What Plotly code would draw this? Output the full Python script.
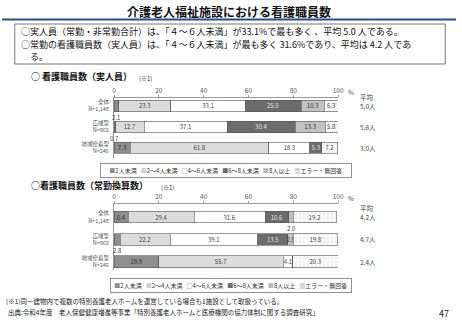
import plotly.graph_objects as go

W, H = 462, 320
FONT = "Noto Sans CJK JP"

# ---------------- data ----------------
categories = ["全体", "広域型", "地域密着型"]
sample_sizes = ["N=1,148", "N=902", "N=246"]
series_names = ["2人未満", "2～4人未満", "4～6人未満", "6～8人未満", "8人以上", "エラー・無回答"]
tick_values = [0, 20, 40, 60, 80, 100]

# 看護職員数（実人員）
actual_lt2 = [2.1, 0.7, 7.3]
actual_2to4 = [23.3, 12.7, 61.8]
actual_4to6 = [33.1, 37.1, 18.3]
actual_6to8 = [25.0, 30.4, 5.3]
actual_8plus = [10.3, 13.3, 0.0]
actual_error = [6.3, 5.8, 7.2]
actual_avg = ["5.0人", "5.6人", "3.0人"]

# 看護職員数（常勤換算数）
fte_lt2 = [6.4, 2.8, 19.9]
fte_2to4 = [29.4, 22.2, 55.7]
fte_4to6 = [31.6, 39.1, 4.1]
fte_6to8 = [10.6, 13.5, 0.0]
fte_8plus = [2.0, 2.5, 0.0]
fte_error = [19.2, 19.8, 20.3]
fte_avg = ["4.2人", "4.7人", "2.4人"]

# ---------------- styles ----------------
colors = ["#8e8e8e", "#dcdcdc", "#ffffff", "#6c6c6c", "#c2c2c2", "#ffffff"]
text_colors = ["#333333", "#444444", "#444444", "#e6e6e6", "#333333", "#444444"]
legend_glyphs = [("■", "#8e8e8e"), ("■", "#d0d0d0"), ("□", "#777777"),
                 ("■", "#6c6c6c"), ("■", "#b8b8b8"), ("▦", "#999999")]


def px(x):
    return x / W


def py(y):
    return 1 - y / H


def note(x, y, text, font, xanchor="left", yanchor="middle", **kw):
    fig.add_annotation(x=px(x), y=py(y), xref="paper", yref="paper", showarrow=False,
                       xanchor=xanchor, yanchor=yanchor, text=text, font=font, **kw)


fig = go.Figure()

charts = [
    dict(series=[actual_lt2, actual_2to4, actual_4to6, actual_6to8, actual_8plus, actual_error],
         avg=actual_avg, xa="x", ya="y"),
    dict(series=[fte_lt2, fte_2to4, fte_4to6, fte_6to8, fte_8plus, fte_error],
         avg=fte_avg, xa="x2", ya="y2"),
]

small_font = dict(family=FONT, size=6, color="#444444")

for ch in charts:
    cumulative = [0.0] * len(categories)
    for si, vals in enumerate(ch["series"]):
        texts = []
        for v in vals:
            inside = v >= 2.5 and not (si == 0 and v < 3)
            texts.append(f"{v:.1f}" if inside else "")
        marker = dict(color=colors[si], line=dict(color="#555555", width=0.6))
        if si == 5:
            marker["pattern"] = dict(shape="+", fgcolor="#9a9a9a", bgcolor="#ffffff",
                                     size=4, solidity=0.18)
        fig.add_trace(go.Bar(
            y=categories, x=vals, orientation="h", name=series_names[si],
            marker=marker, text=texts, textposition="inside", textangle=0,
            insidetextanchor="middle", constraintext="none",
            textfont=dict(family=FONT, size=6, color=text_colors[si]),
            xaxis=ch["xa"], yaxis=ch["ya"], showlegend=False, hoverinfo="skip",
        ))
        for k, v in enumerate(vals):
            below = (0 < v < 2.5) or (si == 0 and 0 < v < 3)
            if below:
                fig.add_annotation(
                    x=cumulative[k] + v / 2, y=categories[k], xref=ch["xa"], yref=ch["ya"],
                    text=f"{v:.1f}", showarrow=False, yanchor="top", yshift=-5,
                    font=small_font)
            cumulative[k] += v
    # averages
    for k, a in enumerate(ch["avg"]):
        fig.add_annotation(x=px(362), xref="paper", y=categories[k], yref=ch["ya"],
                           text=a, showarrow=False, xanchor="left", yanchor="middle",
                           font=dict(family=FONT, size=6.5, color="#444444"))
    fig.add_annotation(x=px(362), xref="paper", y=categories[0], yref=ch["ya"],
                       text="平均", showarrow=False, xanchor="left", yanchor="middle",
                       yshift=9, font=dict(family=FONT, size=6.5, color="#444444"))

# ---------------- axes ----------------
xaxis_common = dict(range=[0, 100], side="top", tickvals=tick_values,
                    showline=True, linecolor="#999999", linewidth=1,
                    ticks="outside", ticklen=2, tickcolor="#999999",
                    tickfont=dict(family=FONT, size=6.5, color="#555555"),
                    ticklabelstandoff=-1,
                    showgrid=False, zeroline=False, fixedrange=True,
                    domain=[px(114), px(342)])
yaxis_common = dict(type="category", tickvals=categories,
                    ticktext=[f"{c}<br>{n}" for c, n in zip(categories, sample_sizes)],
                    showline=True, linecolor="#999999", linewidth=1, ticks="",
                    tickfont=dict(family=FONT, size=5.5, color="#555555"),
                    showgrid=False, zeroline=False, fixedrange=True,
                    ticklabelstandoff=3)

fig.update_layout(
    width=W, height=H, margin=dict(l=0, r=0, t=0, b=0),
    paper_bgcolor="white", plot_bgcolor="white",
    barmode="stack", bargap=0.47,
    uniformtext=dict(minsize=6, mode="show"),
    font=dict(family=FONT),
    xaxis=dict(xaxis_common, anchor="y"),
    yaxis=dict(yaxis_common, anchor="x", domain=[py(158), py(98)], range=[2.48, -0.38]),
    xaxis2=dict(xaxis_common, anchor="y2"),
    yaxis2=dict(yaxis_common, anchor="x2", domain=[py(270), py(204)], range=[2.36, -0.58]),
)

tick_font = dict(family=FONT, size=6.5, color="#555555")
# "%" after 100
note(350, 92, "%", tick_font)
note(350, 198, "%", tick_font)

# ---------------- page decorations ----------------
shapes = [
    dict(type="line", xref="paper", yref="paper", x0=0, x1=1, y0=py(19.5), y1=py(19.5),
         line=dict(color="#1f4e9c", width=2)),
    dict(type="rect", xref="paper", yref="paper", x0=px(13), x1=px(451), y0=py(64), y1=py(24),
         line=dict(color="#777777", width=1)),
]
fig.update_layout(shapes=shapes)

note(231, 11, "<b>介護老人福祉施設における看護職員数</b>",
     dict(family=FONT, size=12, color="#111111"), xanchor="center")

box_font = dict(family=FONT, size=9, color="#111111")
note(17, 32, "○実人員（常勤・非常勤合計）は、「４～６人未満」が33.1%で最も多く 、平均 5.0 人である。", box_font)
note(17, 44.5, "○常勤の看護職員数（実人員）は、「４～６人未満」が最も多く 31.6%であり、平均は 4.2 人であ", box_font)
note(26, 57, "る。", box_font)

head_font = dict(family=FONT, size=9, color="#111111")
ref_font = dict(family=FONT, size=6, color="#333333")
note(27, 76, "<b>○ 看護職員数（実人員）</b>", head_font)
note(137, 78, "(※1)", ref_font)
note(27, 185.5, "<b>○看護職員数（常勤換算数）</b>", head_font)
note(160, 187, "(※1)", ref_font)

# legends
legend_text = "&nbsp;&nbsp;&nbsp;".join(
    f"<span style='color:{gc}'>{g}</span>{n}" for (g, gc), n in zip(legend_glyphs, series_names))
for cx, cy, w in ((228, 170, 246), (233, 285, 236)):
    note(cx, cy, legend_text, dict(family=FONT, size=6, color="#333333"), xanchor="center",
         width=w, align="center", bordercolor="#777777", borderwidth=0.8, borderpad=2)

foot_font = dict(family=FONT, size=6.5, color="#222222")
note(2, 301, "(※1)同一建物内で複数の特別養護老人ホームを運営している場合も1施設として取扱っている。", foot_font)
note(4, 312, "出典:令和4年度　老人保健健康増進等事業「特別養護老人ホームと医療機関の協力体制に関する調査研究」", foot_font)
note(450, 313, "47", dict(family=FONT, size=9, color="#222222"), xanchor="center")

fig.write_html("out.html")
